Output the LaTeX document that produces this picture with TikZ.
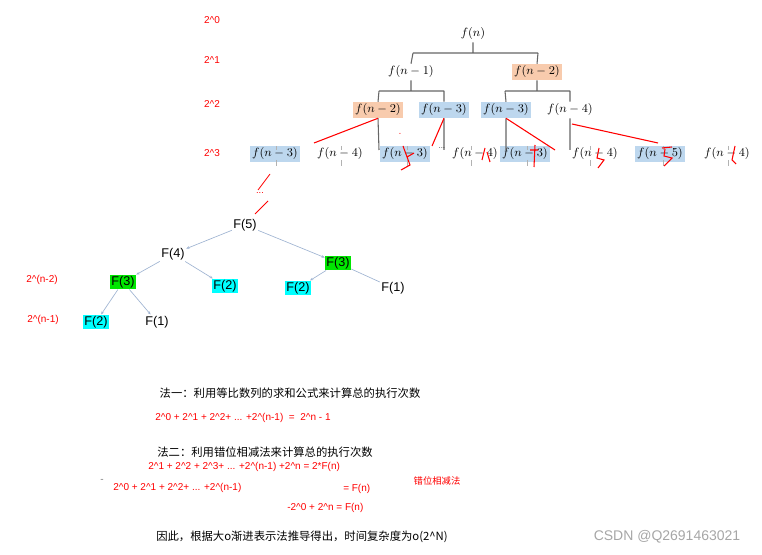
\documentclass[tikz,border=0pt]{standalone}
\usepackage{fontspec}
\setmainfont{Liberation Sans}
\newfontfamily\cjk{Noto Sans CJK SC}
\usetikzlibrary{arrows.meta}
\definecolor{orng}{RGB}{248,203,173}
\definecolor{lblue}{RGB}{189,215,238}
\definecolor{grn}{RGB}{0,230,0}
\definecolor{cyn}{RGB}{0,255,255}
\definecolor{edge}{RGB}{160,180,210}
\begin{document}
\begin{tikzpicture}[x=0.75pt,y=-0.75pt,
  m/.style={inner sep=1.5pt,font=\fontsize{9}{10}\selectfont},
  ob/.style={m,fill=orng},
  bb/.style={m,fill=lblue},
  fn/.style={inner sep=1pt,font=\fontsize{9.5}{11}\selectfont},
  gb/.style={fn,fill=grn},
  cb/.style={fn,fill=cyn},
  lvl/.style={text=red,font=\fontsize{7.5}{9}\selectfont},
  tr/.style={draw=gray!80!black,line width=0.8pt},
  tk/.style={draw=gray!60,line width=0.5pt},
  rd/.style={draw=red,line width=0.8pt},
  ar/.style={draw=edge,line width=0.5pt,-{Stealth[length=2.5pt,width=2pt]}},
  rt/.style={text=red,font=\fontsize{7.5}{9}\selectfont,inner sep=0pt,anchor=west},
  zh/.style={font=\cjk\fontsize{8.5}{10}\selectfont,inner sep=0pt}]
\useasboundingbox (0,0) rectangle (762,555);
% level labels
\node[lvl] (l0) at (212,20) {2\^{}0};
\node[lvl] (l1) at (212,60) {2\^{}1};
\node[lvl] (l2) at (212,104) {2\^{}2};
\node[lvl] (l3) at (212,153) {2\^{}3};
% top tree
\node[m] (a) at (473,34) {$f(n)$};
\node[m] (b1) at (411,72) {$f(n-1)$};
\node[ob] (b2) at (537,72) {$f(n-2)$};
\node[ob] (c1) at (378,110) {$f(n-2)$};
\node[bb] (c2) at (444,110) {$f(n-3)$};
\node[bb] (c3) at (506,110) {$f(n-3)$};
\node[m] (c4) at (570,110) {$f(n-4)$};
\node[bb] (d1) at (275,154) {$f(n-3)$};
\node[m] (d2) at (340,154) {$f(n-4)$};
\node[bb] (d3) at (405,154) {$f(n-3)$};
\node[m] (d4) at (475,154) {$f(n-4)$};
\node[bb] (d5) at (525,154) {$f(n-3)$};
\node[m] (d6) at (595,154) {$f(n-4)$};
\node[bb] (d7) at (660,154) {$f(n-5)$};
\node[m] (d8) at (727,154) {$f(n-4)$};
\draw[tr] (a.south) -- (473,53) (413,53) -- (538,53) (413,53) -- (b1.north) (538,53) -- (b2.north);
\draw[tr] (b1.south) -- (411,91) (379,91) -- (444,91) (379,91) -- (c1.north) (444,91) -- (c2.north);
\draw[tr] (b2.south) -- (537,91) (505,91) -- (570,91) (505,91) -- (c3.north) (570,91) -- (c4.north);
\draw[tr] (c1.south) -- (379,150) (c2.south) -- (444,150) (c3.south) -- (506,150) (c4.south) -- (570,150);
\foreach \n/\x in {d1/276,d2/341,d3/407,d4/471,d5/527,d6/590,d7/663,d8/728}
  \draw[tk] (\x,146) -- (\x,150) (\x,160) -- (\x,166);
% red marks
\draw[rd] (c1.south) -- (314,143);
\draw[rd] (c2.south) -- (432,146);
\draw[rd] (c3.south) -- (555,150);
\draw[rd] (572,124) -- (658,143);
\draw[rd] (403,146) -- (410,165) -- (401,170) (407,157) -- (414,153);
\draw[rd] (485,148) -- (482,160) (487,152) -- (490,162);
\draw[rd] (535,145) -- (534,167) (530,150) -- (538,150);
\draw[rd] (599,148) -- (597,158) -- (604,160) -- (598,168);
\draw[rd] (662,148) -- (672,147) (665,149) -- (664,156) -- (672,158) -- (664,166);
\draw[rd] (735,146) -- (732,160) -- (736,164);
\node[text=red,inner sep=0pt,font=\tiny] (dash) at (400,134) {-};
\node[inner sep=0pt,font=\tiny] (dots) at (442,148) {\char"2026};
\draw[rd,line width=0.6pt] (270,174) -- (258,190);
\node[text=red,inner sep=0pt,font=\scriptsize] (rdots) at (260,193) {...};
\draw[rd,line width=0.6pt] (268,201) -- (255,214);
% bottom tree
\node[fn] (f5) at (245,225) {F(5)};
\node[fn] (f4) at (173,254) {F(4)};
\node[gb] (f3a) at (123,282) {F(3)};
\node[cb] (f2a) at (225,286) {F(2)};
\node[gb] (f3b) at (338,263) {F(3)};
\node[cb] (f2b) at (298,288) {F(2)};
\node[fn] (f1b) at (393,288) {F(1)};
\node[cb] (f2c) at (96,322) {F(2)};
\node[fn] (f1c) at (157,322) {F(1)};
\draw[ar] (f5) -- (f4);
\draw[ar] (f5) -- (f3b);
\draw[ar] (f4) -- (f3a);
\draw[ar] (f4) -- (f2a);
\draw[ar] (f3b) -- (f2b);
\draw[draw=edge,line width=0.5pt] (f3b) -- (f1b);
\draw[ar] (f3a) -- (f2c);
\draw[ar] (f3a) -- (f1c);
\node[lvl] (ln2) at (42,280) {2\^{}(n-2)};
\node[lvl] (ln1) at (43,320) {2\^{}(n-1)};
% text
\node[zh] (t1) at (290,393) {法一：利用等比数列的求和公式来计算总的执行次数};
\node[rt] (e1) at (155,418) {2\^{}0 + 2\^{}1 + 2\^{}2+ ... +2\^{}(n-1) \ = \ 2\^{}n - 1};
\node[zh] (t2) at (265,452) {法二：利用错位相减法来计算总的执行次数};
\node[rt] (e2) at (148,467) {2\^{}1 + 2\^{}2 + 2\^{}3+ ... +2\^{}(n-1) +2\^{}n = 2*F(n)};
\node[rt,text=gray] (minus) at (100,481) {-};
\node[rt] (e3) at (113,488) {2\^{}0 + 2\^{}1 + 2\^{}2+ ... +2\^{}(n-1)};
\node[rt] (e4) at (343,489) {= F(n)};
\node[zh,text=red,font=\cjk\fontsize{7}{8}\selectfont] (t3) at (437,481) {错位相减法};
\node[rt] (e5) at (287,508) {-2\^{}0 + 2\^{}n = F(n)};
\node[zh] (t4) at (302,537) {因此，根据大o渐进表示法推导得出，时间复杂度为o(2\^{}N)};
\node[font=\fontsize{10.5}{12}\selectfont,text=gray!70,inner sep=0pt] (wm) at (667,537) {CSDN @Q2691463021};
\end{tikzpicture}
\end{document}
